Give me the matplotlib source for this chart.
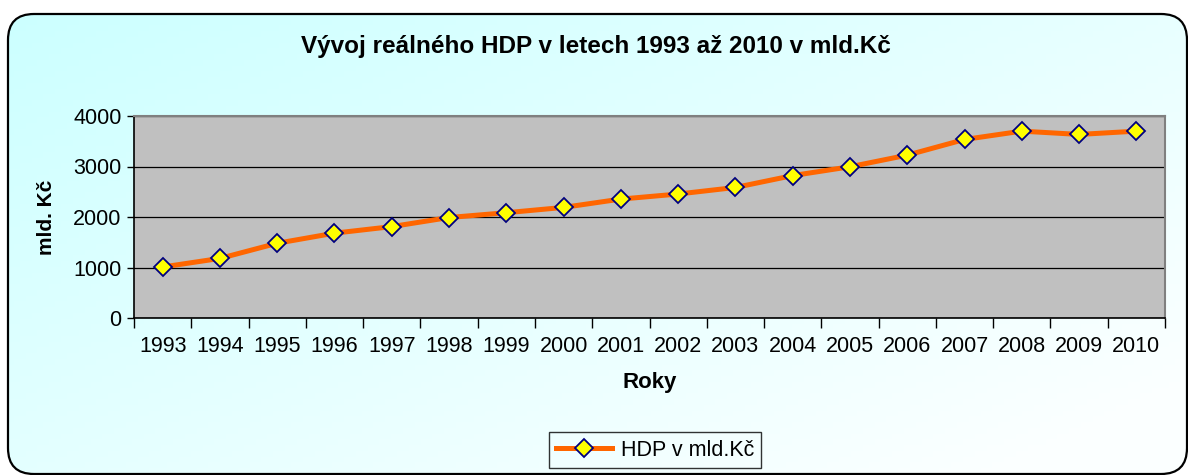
import numpy as np
import matplotlib
matplotlib.use("Agg")
import matplotlib.pyplot as plt
from matplotlib.patches import FancyBboxPatch

years = ["1993", "1994", "1995", "1996", "1997", "1998", "1999", "2000", "2001",
         "2002", "2003", "2004", "2005", "2006", "2007", "2008", "2009", "2010"]
hdp = [1010, 1180, 1480, 1680, 1810, 1990, 2085, 2190, 2355,
       2455, 2585, 2820, 2995, 3225, 3535, 3700, 3635, 3700]
yticks = [0, 1000, 2000, 3000, 4000]

plt.rcParams['font.family'] = ['Liberation Sans', 'DejaVu Sans']

W, H = 1188, 475
fig = plt.figure(figsize=(W / 100, H / 100), dpi=100)
fig.patch.set_facecolor('white')

# background gradient with rounded frame
bg = fig.add_axes([0, 0, 1, 1], zorder=-10)
bg.set_xlim(0, W)
bg.set_ylim(H, 0)
bg.axis('off')
gx, gy = np.meshgrid(np.linspace(0, 1, 200), np.linspace(0, 1, 80))
t = np.clip(gx * 0.6 + gy * 0.5, 0, 1)
c0 = np.array([0.80, 1.0, 1.0])
c1 = np.array([0.985, 1.0, 1.0])
img = c0[None, None, :] * (1 - t[..., None]) + c1[None, None, :] * t[..., None]
frame = FancyBboxPatch((8, 14), 1179, 460, boxstyle="round,pad=0,rounding_size=26",
                       transform=bg.transData, facecolor='none', edgecolor='black',
                       linewidth=1.6, zorder=5, clip_on=False)
bg.add_patch(frame)
im = bg.imshow(img, extent=(8, 1187, 474, 14), aspect='auto', zorder=1)
im.set_clip_path(frame)

ax = fig.add_axes([134 / W, 1 - 318 / H, (1165 - 134) / W, (318 - 116) / H])
ax.set_facecolor('#c0c0c0')
x = np.arange(len(years))
ax.plot(x, hdp, color='#ff6600', linewidth=3.6, marker='D', markersize=9.5,
        markerfacecolor='#ffff00', markeredgecolor='#000080', markeredgewidth=1.3,
        zorder=3, label='HDP v mld.Kč')
ax.set_xlim(-0.5, len(years) - 0.5)
ax.set_ylim(0, 4000)
ax.set_yticks(yticks)
ax.set_yticklabels([str(v) for v in yticks])
ax.yaxis.grid(True, color='black', linewidth=0.9)
ax.set_axisbelow(True)

ax.set_xticks(np.arange(len(years) + 1) - 0.5)
ax.set_xticklabels([])
ax.set_xticks(x, minor=True)
ax.set_xticklabels(years, minor=True)
ax.tick_params(axis='x', which='major', length=7, width=1, direction='out', color='black')
ax.tick_params(axis='x', which='minor', length=0, pad=13, labelsize=15.5)
ax.tick_params(axis='y', length=5, width=1, direction='out', pad=4, labelsize=15.5)

for s in ['left', 'bottom']:
    ax.spines[s].set_color('black')
    ax.spines[s].set_linewidth(1.2)
for s in ['top', 'right']:
    ax.spines[s].set_color('#808080')
    ax.spines[s].set_linewidth(1.5)

ax.set_xlabel('Roky', fontsize=16, fontweight='bold', labelpad=11)
ax.set_ylabel('mld. Kč', fontsize=15, fontweight='bold', labelpad=12)

fig.text(596 / W, 1 - 47 / H, 'Vývoj reálného HDP v letech 1993 až 2010 v mld.Kč',
         ha='center', va='center', fontsize=17.5, fontweight='bold')

leg = fig.legend(handles=ax.get_lines(), loc='center', bbox_to_anchor=(655 / W, 1 - 450 / H),
                 frameon=True, fancybox=False, fontsize=15.5, handlelength=2.6,
                 borderpad=0.35, handletextpad=0.4)
leg.get_frame().set_edgecolor('black')
leg.get_frame().set_linewidth(1.0)
leg.get_frame().set_facecolor('none')

fig.savefig('out.png', dpi=100)
